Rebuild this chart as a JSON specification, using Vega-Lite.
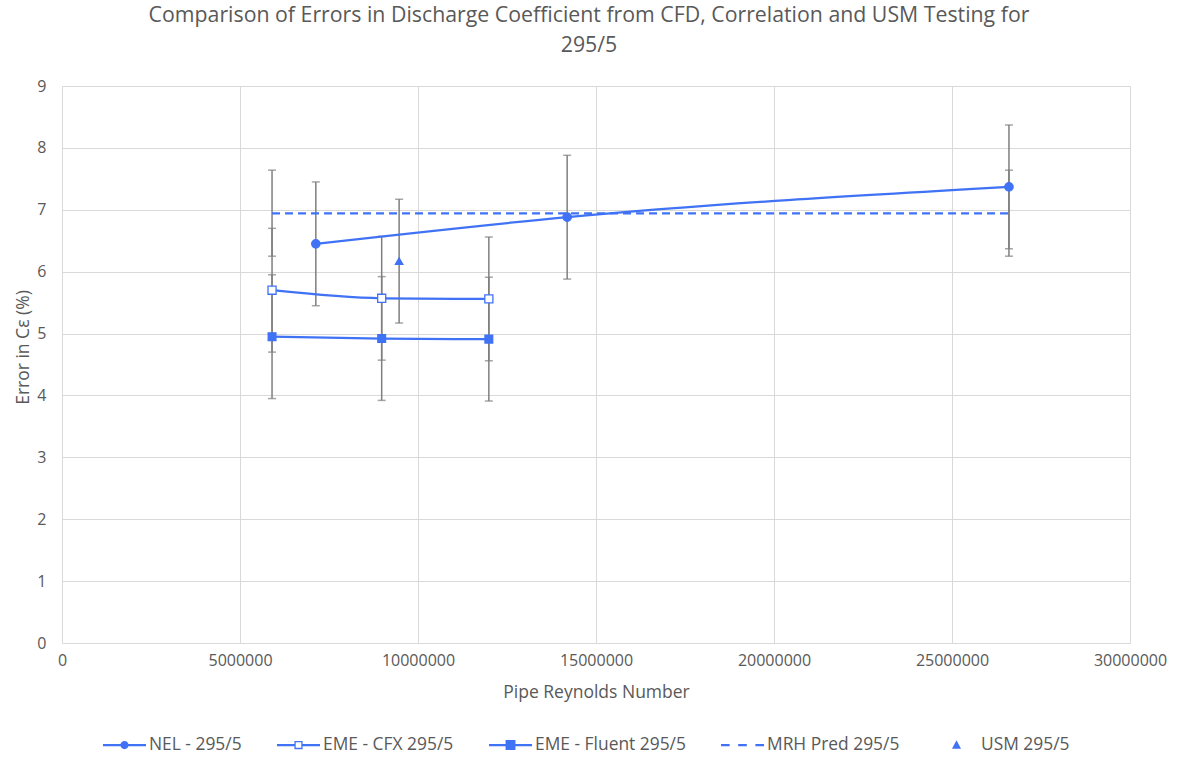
{
  "$schema": "https://vega.github.io/schema/vega-lite/v6.json",
  "autosize": "none",
  "width": 1068,
  "height": 557,
  "padding": {"left": 62, "top": 86, "right": 49, "bottom": 117},
  "background": "white",
  "title": {
    "text": ["Comparison of Errors in Discharge Coefficient from CFD, Correlation and USM Testing for", "295/5"],
    "font": "Open Sans",
    "fontSize": 21.3,
    "fontWeight": "normal",
    "color": "#595959",
    "anchor": "middle",
    "dx": -7,
    "offset": 22,
    "lineHeight": 30
  },
  "config": {
    "view": {"stroke": null},
    "axis": {
      "labelFont": "Open Sans",
      "titleFont": "Open Sans",
      "labelFontSize": 16,
      "titleFontSize": 17.5,
      "labelColor": "#595959",
      "titleColor": "#595959",
      "titleFontWeight": "normal",
      "gridColor": "#d9d9d9",
      "gridWidth": 1,
      "domain": false,
      "ticks": false
    },
    "legend": {
      "labelFont": "Open Sans",
      "labelFontSize": 17.4,
      "labelColor": "#595959"
    }
  },
  "data": {
    "values": [
      {"series": "NEL - 295/5", "re": 7130000, "err": 6.45, "lo": 5.45, "hi": 7.45},
      {"series": "NEL - 295/5", "re": 14190000, "err": 6.88, "lo": 5.88, "hi": 7.88},
      {"series": "NEL - 295/5", "re": 26600000, "err": 7.37, "lo": 6.37, "hi": 8.37},
      {"series": "EME - CFX 295/5", "re": 5900000, "err": 5.70, "lo": 4.70, "hi": 6.70},
      {"series": "EME - CFX 295/5", "re": 8980000, "err": 5.57, "lo": 4.57, "hi": 6.57},
      {"series": "EME - CFX 295/5", "re": 11990000, "err": 5.56, "lo": 4.56, "hi": 6.56},
      {"series": "EME - Fluent 295/5", "re": 5900000, "err": 4.95, "lo": 3.95, "hi": 5.95},
      {"series": "EME - Fluent 295/5", "re": 8980000, "err": 4.92, "lo": 3.92, "hi": 5.92},
      {"series": "EME - Fluent 295/5", "re": 11990000, "err": 4.91, "lo": 3.91, "hi": 5.91},
      {"series": "MRH Pred 295/5", "re": 5900000, "err": 6.94, "lo": 6.25, "hi": 7.64},
      {"series": "MRH Pred 295/5", "re": 26600000, "err": 6.94, "lo": 6.25, "hi": 7.64},
      {"series": "USM 295/5", "re": 9470000, "err": 6.17, "lo": 5.17, "hi": 7.17}
    ]
  },
  "encoding": {
    "x": {
      "field": "re",
      "type": "quantitative",
      "scale": {"domain": [0, 30000000], "nice": false, "zero": true},
      "axis": {
        "title": "Pipe Reynolds Number",
        "values": [0, 5000000, 10000000, 15000000, 20000000, 25000000, 30000000],
        "format": "d",
        "labelFlush": false,
        "labelPadding": 9,
        "titlePadding": 15
      }
    }
  },
  "layer": [
    {
      "mark": {"type": "errorbar", "color": "#7f7f7f", "thickness": 1.5, "ticks": {"size": 8}},
      "encoding": {
        "y": {"field": "lo", "type": "quantitative", "scale": {"domain": [0, 9], "nice": false},
          "axis": {"title": "Error in Cε (%)", "values": [0,1,2,3,4,5,6,7,8,9], "format": "d", "labelPadding": 16,
            "titleX": -34, "titleY": 261, "titleAngle": -90, "titleAlign": "center", "titleBaseline": "alphabetic"}},
        "y2": {"field": "hi"}
      }
    },
    {
      "transform": [{"filter": "datum.series !== 'MRH Pred 295/5' && datum.series !== 'USM 295/5'"}],
      "mark": {"type": "line", "color": "#3F72F5", "strokeWidth": 2.25, "interpolate": "monotone"},
      "encoding": {
        "y": {"field": "err", "type": "quantitative"},
        "detail": {"field": "series"}
      }
    },
    {
      "transform": [{"filter": "datum.series === 'MRH Pred 295/5'"}],
      "mark": {"type": "line", "color": "#3F72F5", "strokeWidth": 2.25, "strokeDash": [8, 5]},
      "encoding": {
        "y": {"field": "err", "type": "quantitative"}
      }
    },
    {
      "transform": [{"filter": "datum.series !== 'MRH Pred 295/5'"}],
      "mark": {"type": "point", "filled": true, "stroke": "#3F72F5", "strokeWidth": 1.3, "opacity": 1},
      "encoding": {
        "y": {"field": "err", "type": "quantitative"},
        "shape": {
          "field": "series",
          "type": "nominal",
          "scale": {
            "domain": ["NEL - 295/5", "EME - CFX 295/5", "EME - Fluent 295/5", "USM 295/5"],
            "range": ["circle", "square", "square", "triangle-up"]
          },
          "legend": null
        },
        "size": {
          "field": "series",
          "type": "nominal",
          "scale": {
            "domain": ["NEL - 295/5", "EME - CFX 295/5", "EME - Fluent 295/5", "USM 295/5"],
            "range": [70, 55, 85, 70]
          },
          "legend": null
        },
        "fill": {
          "condition": {"test": "datum.series === 'EME - CFX 295/5'", "value": "white"},
          "value": "#3F72F5"
        }
      }
    },
    {
      "transform": [{"filter": "false"}],
      "mark": {"type": "point", "filled": true, "color": "#3F72F5", "opacity": 1},
      "encoding": {
        "y": {"field": "err", "type": "quantitative"},
        "shape": {
          "field": "series",
          "type": "nominal",
          "scale": {
            "domain": ["NEL - 295/5", "EME - CFX 295/5", "EME - Fluent 295/5", "MRH Pred 295/5", "USM 295/5"],
            "range": [
              "M-1,-0.052H1V0.052H-1Z M0.19,0 A0.19,0.19 0 1,1 -0.19,0 A0.19,0.19 0 1,1 0.19,0 Z",
              "M-1,-0.052H-0.19V0.052H-1Z M0.19,-0.052H1V0.052H0.19Z M-0.19,-0.19H0.19V0.19H-0.19Z M-0.13,-0.13V0.13H0.13V-0.13Z",
              "M-1,-0.052H1V0.052H-1Z M-0.23,-0.23H0.23V0.23H-0.23Z",
              "M-1,-0.052H-0.6V0.052H-1Z M-0.2,-0.052H0.2V0.052H-0.2Z M0.6,-0.052H1V0.052H0.6Z",
              "M0,-0.22L0.21,0.17H-0.21Z"
            ]
          },
          "legend": {
            "title": null,
            "orient": "none",
            "direction": "horizontal",
            "columns": 5,
            "legendX": 41,
            "legendY": 637.5,
            "symbolSize": 1849,
            "symbolStrokeWidth": 0,
            "symbolFillColor": "#3F72F5",
            "symbolOpacity": 1,
            "labelOffset": 3,
            "columnPadding": 35,
            "padding": 0
          }
        }
      }
    }
  ],
  "resolve": {"scale": {"shape": "independent", "size": "independent"}, "legend": {"shape": "independent"}}
}
